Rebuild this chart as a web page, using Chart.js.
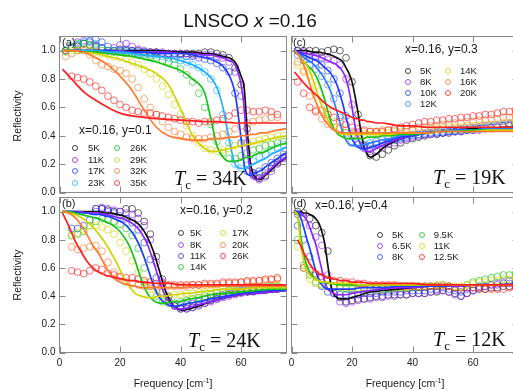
<!DOCTYPE html>
<html>
<head>
<meta charset="utf-8">
<script src="https://cdn.jsdelivr.net/npm/chart.js@4.4.1/dist/chart.umd.min.js"></script>
<style>
  html, body { margin: 0; padding: 0; background: #fff; }
  #page { position: relative; width: 513px; height: 390px; overflow: hidden; font-family: "Liberation Sans", Arial, sans-serif; }
  #page canvas { position: absolute; left: 0; top: 0; }
  #txt { position: absolute; left: 0; top: 0; width: 513px; height: 390px; pointer-events: none; }
  .lbl { position: absolute; white-space: nowrap; line-height: 1; color: #1a1a1a; }
  .tc { font-family: "Liberation Serif", "Times New Roman", serif; font-size: 20px; color: #111; }
  .dot { position: absolute; width: 4px; height: 4px; border: 1px solid; border-radius: 50%; transform: translate(-50%, -50%); opacity: 0.8; }
</style>
</head>
<body>
<div id="page">
  <canvas id="pa" width="530" height="390"></canvas>
  <canvas id="pc" width="530" height="390"></canvas>
  <canvas id="pb" width="530" height="390"></canvas>
  <canvas id="pd" width="530" height="390"></canvas>
  <div id="txt"></div>
</div>
<script>
// ---- axes ----
const xTickVals = [0, 20, 40, 60];
const yTickVals = [0, 0.2, 0.4, 0.6, 0.8, 1.0];

// measured frequencies (cm-1) shared by all data sets
const freqDots = [2,4,6,8,10,12,14,16,18,20,22,24,26,28,30,32,34,36,38,40,42,44,46,48,50,52,54,56,58,60,62,64,66,68,70,72,74];

// ---- (a) x=0.16, y=0.1 ----
const tempsA = ['5K', '11K', '17K', '23K', '26K', '29K', '32K', '35K'];
const dotsA = [
  [1.0,1.02,1.03,1.05,1.04,1.03,1.02,1.0,1.0,1.01,1.0,1.0,1.0,0.99,0.99,0.99,0.98,0.98,0.98,0.98,0.98,0.98,0.98,0.99,0.99,0.98,0.97,0.95,0.88,0.76,0.45,0.14,0.1,0.12,0.17,0.21,0.25],
  [1.0,1.03,1.06,1.07,1.06,1.04,1.02,1.0,1.02,1.04,1.05,1.03,1.01,1.0,0.99,0.99,0.99,0.98,0.98,0.98,0.98,0.97,0.97,0.97,0.97,0.96,0.95,0.92,0.85,0.68,0.35,0.12,0.09,0.11,0.15,0.2,0.24],
  [1.0,1.02,1.04,1.05,1.07,1.08,1.06,1.03,1.0,1.0,1.01,1.0,0.99,0.99,0.98,0.98,0.98,0.97,0.97,0.97,0.96,0.96,0.95,0.94,0.93,0.91,0.88,0.85,0.7,0.35,0.15,0.13,0.15,0.18,0.21,0.24,0.27],
  [1.0,1.02,1.04,1.06,1.07,1.05,1.02,1.0,1.0,1.0,0.99,0.99,0.98,0.98,0.97,0.97,0.96,0.95,0.94,0.93,0.92,0.9,0.88,0.85,0.8,0.72,0.55,0.35,0.2,0.17,0.19,0.22,0.25,0.27,0.3,0.32,0.34],
  [1.0,1.03,1.05,1.05,1.04,1.02,1.0,1.0,0.99,0.99,0.98,0.98,0.97,0.97,0.96,0.95,0.93,0.92,0.9,0.87,0.83,0.78,0.7,0.6,0.48,0.36,0.28,0.24,0.24,0.26,0.28,0.3,0.31,0.33,0.34,0.35,0.36],
  [0.99,1.0,1.0,1.01,1.0,0.99,0.98,0.97,0.96,0.95,0.94,0.92,0.9,0.87,0.84,0.8,0.75,0.69,0.62,0.55,0.47,0.4,0.35,0.31,0.3,0.29,0.3,0.31,0.33,0.34,0.35,0.36,0.37,0.38,0.39,0.4,0.4],
  [0.96,0.98,1.0,1.0,0.97,0.93,0.9,0.89,0.87,0.86,0.84,0.8,0.74,0.66,0.6,0.55,0.5,0.46,0.43,0.41,0.39,0.38,0.38,0.38,0.39,0.4,0.41,0.43,0.45,0.47,0.49,0.5,0.51,0.52,0.53,0.53,null],
  [null,0.82,0.81,0.8,0.78,0.75,0.72,0.68,0.65,0.62,0.6,0.58,0.57,0.56,0.56,0.55,0.54,0.53,0.52,0.51,0.5,0.5,0.49,0.5,0.5,0.51,0.52,0.54,0.56,0.58,0.58,0.57,0.57,0.58,0.57,0.55,null]
];
const freqFitA = [1,4,8,12,16,20,24,28,32,36,40,44,48,50,52,54,56,58,60,61,62,63,64,65,66,67,68,70,72,75];
const fitsA = [
  [1.0,1.0,1.0,1.0,1.0,1.0,1.0,1.0,1.0,0.995,0.99,0.99,0.98,0.98,0.97,0.96,0.95,0.92,0.82,0.74,0.45,0.22,0.13,0.1,0.09,0.1,0.12,0.16,0.2,0.25],
  [1.0,1.0,1.0,1.0,1.0,1.0,0.99,0.99,0.99,0.99,0.98,0.98,0.97,0.97,0.96,0.95,0.93,0.9,0.76,0.6,0.32,0.15,0.1,0.09,0.1,0.11,0.13,0.17,0.21,0.25],
  [1.0,1.0,1.0,1.0,1.0,0.99,0.99,0.99,0.98,0.98,0.98,0.97,0.95,0.94,0.92,0.89,0.83,0.7,0.38,0.2,0.13,0.12,0.13,0.14,0.15,0.16,0.18,0.21,0.24,0.28],
  [1.0,1.0,1.0,1.0,0.99,0.99,0.98,0.97,0.96,0.95,0.93,0.9,0.85,0.81,0.74,0.6,0.38,0.2,0.17,0.17,0.18,0.19,0.2,0.21,0.22,0.23,0.24,0.27,0.29,0.32],
  [1.0,1.0,0.99,0.99,0.98,0.97,0.96,0.94,0.92,0.89,0.86,0.8,0.7,0.52,0.33,0.25,0.22,0.22,0.23,0.24,0.25,0.25,0.26,0.27,0.28,0.28,0.29,0.31,0.33,0.35],
  [1.0,1.0,0.99,0.98,0.96,0.94,0.91,0.88,0.84,0.76,0.59,0.4,0.31,0.29,0.29,0.3,0.31,0.32,0.33,0.33,0.34,0.34,0.35,0.35,0.36,0.36,0.37,0.38,0.39,0.4],
  [1.0,1.0,0.99,0.95,0.9,0.82,0.72,0.58,0.46,0.4,0.38,0.37,0.37,0.38,0.38,0.38,0.39,0.39,0.4,0.4,0.4,0.41,0.41,0.41,0.42,0.42,0.42,0.43,0.44,0.45],
  [0.87,0.8,0.71,0.65,0.6,0.56,0.54,0.53,0.52,0.515,0.51,0.505,0.5,0.5,0.5,0.495,0.495,0.49,0.49,0.49,0.49,0.49,0.49,0.49,0.49,0.49,0.49,0.49,0.49,0.49]
];

// ---- (c) x=0.16, y=0.3 ----
const tempsC = ['5K', '8K', '10K', '12K', '14K', '16K', '20K'];
const dotsC = [
  [1.0,1.0,1.0,1.0,0.99,1.0,1.01,1.0,0.95,0.78,0.55,0.33,0.26,0.25,0.27,0.3,0.33,0.35,0.37,0.38,0.39,0.4,0.41,0.41,0.42,0.42,0.43,0.43,0.44,0.44,0.45,0.45,0.46,0.46,0.47,0.47,0.48],
  [1.0,0.99,0.97,0.96,0.95,0.94,0.93,0.9,0.8,0.62,0.42,0.31,0.29,0.3,0.32,0.34,0.35,0.37,0.38,0.39,0.4,0.41,0.41,0.42,0.42,0.43,0.43,0.43,0.44,0.44,0.44,0.45,0.45,0.46,0.46,0.47,0.47],
  [1.0,0.96,0.94,0.92,0.9,0.86,0.8,0.7,0.54,0.4,0.34,0.32,0.33,0.34,0.35,0.36,0.37,0.38,0.39,0.4,0.41,0.41,0.42,0.42,0.42,0.43,0.43,0.44,0.44,0.45,0.45,0.46,0.46,0.47,0.47,0.48,0.48],
  [0.97,0.93,0.9,0.87,0.82,0.76,0.66,0.53,0.42,0.36,0.34,0.34,0.35,0.36,0.37,0.38,0.39,0.39,0.4,0.41,0.41,0.42,0.42,0.43,0.43,0.44,0.44,0.45,0.45,0.46,0.46,0.47,0.47,0.48,0.48,0.49,0.49],
  [0.9,0.86,0.82,0.75,0.66,0.57,0.5,0.45,0.42,0.41,0.41,0.41,0.41,0.42,0.42,0.42,0.43,0.43,0.43,0.44,0.44,0.44,0.45,0.45,0.45,0.46,0.46,0.46,0.47,0.47,0.47,0.48,0.48,0.48,0.49,0.49,0.5],
  [0.92,0.85,0.68,0.58,0.52,0.48,0.46,0.45,0.44,0.43,0.43,0.43,0.43,0.43,0.44,0.44,0.44,0.45,0.45,0.45,0.46,0.46,0.47,0.47,0.48,0.48,0.49,0.49,0.5,0.5,0.51,0.51,0.52,0.52,0.53,0.53,0.54],
  [0.78,0.7,0.6,0.57,0.58,0.55,0.53,0.5,0.48,0.46,0.45,0.44,0.43,0.43,0.43,0.44,0.45,0.46,0.47,0.48,0.49,0.5,0.5,0.51,0.51,0.52,0.52,0.53,0.53,0.54,0.54,0.55,0.55,0.56,0.57,0.57,0.58]
];
const freqFitC = [1,3,5,7,9,11,13,15,17,18,19,20,21,22,23,24,25,26,28,30,33,36,40,45,50,55,60,65,70,75];
const fitsC = [
  [1.0,1.0,1.0,0.99,0.99,0.98,0.97,0.95,0.92,0.88,0.84,0.78,0.68,0.56,0.42,0.32,0.27,0.25,0.27,0.31,0.35,0.38,0.4,0.42,0.43,0.44,0.45,0.45,0.46,0.46],
  [1.0,0.99,0.98,0.97,0.96,0.94,0.92,0.9,0.85,0.8,0.72,0.6,0.47,0.38,0.33,0.3,0.29,0.29,0.31,0.33,0.36,0.38,0.4,0.42,0.43,0.44,0.44,0.45,0.45,0.46],
  [1.0,0.98,0.96,0.94,0.92,0.88,0.84,0.76,0.62,0.53,0.45,0.38,0.34,0.32,0.31,0.31,0.31,0.32,0.33,0.35,0.37,0.39,0.4,0.42,0.43,0.44,0.44,0.45,0.45,0.45],
  [1.0,0.97,0.94,0.91,0.86,0.8,0.71,0.57,0.42,0.37,0.34,0.33,0.33,0.33,0.33,0.34,0.34,0.35,0.36,0.37,0.38,0.4,0.41,0.42,0.43,0.44,0.44,0.45,0.45,0.45],
  [1.0,0.95,0.9,0.8,0.67,0.56,0.47,0.43,0.41,0.41,0.41,0.41,0.41,0.41,0.41,0.41,0.41,0.41,0.41,0.41,0.41,0.42,0.42,0.42,0.43,0.43,0.43,0.44,0.44,0.44],
  [1.0,0.95,0.84,0.7,0.59,0.51,0.46,0.43,0.42,0.42,0.42,0.42,0.42,0.42,0.42,0.42,0.42,0.42,0.42,0.42,0.42,0.42,0.42,0.42,0.43,0.43,0.43,0.43,0.43,0.43],
  [0.85,0.8,0.75,0.71,0.67,0.63,0.6,0.58,0.56,0.55,0.54,0.53,0.52,0.52,0.51,0.51,0.5,0.5,0.49,0.49,0.48,0.47,0.47,0.46,0.46,0.46,0.46,0.46,0.46,0.46]
];
// extra green fit curve drawn in (c) without a legend entry
const fitGreenC = [1.0,0.95,0.9,0.86,0.78,0.65,0.5,0.42,0.39,0.38,0.38,0.38,0.38,0.38,0.38,0.38,0.39,0.39,0.39,0.4,0.4,0.41,0.41,0.42,0.43,0.43,0.44,0.44,0.44,0.44];

// ---- (b) x=0.16, y=0.2 ----
const tempsB = ['5K', '8K', '11K', '14K', '17K', '20K', '26K'];
const dotsB = [
  [null,null,null,null,null,1.02,1.02,1.01,1.0,1.0,1.02,1.02,0.99,0.93,0.84,0.68,0.52,0.4,0.33,0.31,0.31,0.32,0.34,0.35,0.37,0.38,0.4,0.41,0.42,0.43,0.43,0.44,0.44,0.45,0.45,0.45,null],
  [null,null,null,null,null,1.02,1.03,1.02,1.01,1.0,0.99,0.98,0.95,0.9,0.8,0.64,0.5,0.39,0.33,0.31,0.31,0.32,0.33,0.35,0.36,0.38,0.39,0.4,0.41,0.42,0.43,0.43,0.44,0.44,0.45,0.45,null],
  [null,0.88,0.88,0.9,0.94,1.0,1.02,1.0,0.99,0.97,0.95,0.92,0.87,0.78,0.66,0.53,0.43,0.37,0.34,0.33,0.34,0.35,0.36,0.38,0.39,0.4,0.41,0.42,0.43,0.44,0.44,0.45,0.45,0.45,0.46,0.46,null],
  [null,0.83,0.84,0.86,0.9,0.93,0.95,0.94,0.93,0.91,0.88,0.83,0.74,0.6,0.47,0.4,0.36,0.35,0.35,0.36,0.37,0.38,0.39,0.4,0.41,0.42,0.43,0.44,0.44,0.45,0.45,0.46,0.46,0.46,0.47,0.47,null],
  [null,0.83,0.85,0.87,0.9,0.9,0.89,0.87,0.84,0.78,0.72,0.65,0.57,0.5,0.45,0.42,0.41,0.4,0.41,0.41,0.42,0.42,0.43,0.43,0.44,0.44,0.45,0.45,0.46,0.46,0.46,0.47,0.47,0.47,0.48,0.48,null],
  [null,0.75,0.73,0.74,0.75,0.76,0.72,0.64,0.57,0.53,0.5,0.49,0.48,0.47,0.47,0.47,0.47,0.47,0.47,0.47,0.47,0.48,0.48,0.48,0.48,0.48,0.49,0.49,0.49,0.5,0.5,0.5,0.51,0.51,0.52,0.52,null],
  [null,0.58,0.57,0.56,0.58,0.6,0.59,0.56,0.55,0.54,0.53,0.53,0.52,0.51,0.5,0.49,0.49,0.48,0.48,0.48,0.48,0.48,0.48,0.49,0.49,0.49,0.5,0.5,0.5,0.5,0.51,0.51,0.51,0.52,0.52,0.53,null]
];
const freqFitB = [1,3,5,7,9,11,13,15,17,19,21,23,25,27,29,31,33,35,37,39,41,43,46,50,55,60,65,70,75];
const fitsB = [
  [1.0,1.0,1.0,1.0,1.0,1.0,1.0,0.99,0.99,0.98,0.97,0.95,0.93,0.89,0.82,0.72,0.58,0.44,0.35,0.31,0.3,0.31,0.33,0.36,0.39,0.41,0.42,0.43,0.44],
  [1.0,1.0,1.0,1.0,0.99,0.99,0.99,0.98,0.97,0.96,0.95,0.93,0.9,0.85,0.77,0.65,0.51,0.4,0.34,0.31,0.31,0.32,0.34,0.36,0.39,0.41,0.42,0.43,0.44],
  [1.0,1.0,1.0,0.99,0.99,0.98,0.98,0.97,0.96,0.94,0.92,0.88,0.82,0.73,0.61,0.48,0.39,0.35,0.33,0.33,0.34,0.35,0.36,0.38,0.4,0.42,0.43,0.44,0.44],
  [1.0,1.0,0.99,0.98,0.97,0.96,0.95,0.93,0.91,0.88,0.83,0.76,0.65,0.52,0.42,0.37,0.35,0.35,0.36,0.36,0.37,0.38,0.39,0.41,0.42,0.43,0.44,0.45,0.45],
  [1.0,0.99,0.98,0.96,0.93,0.89,0.84,0.78,0.71,0.63,0.54,0.47,0.42,0.4,0.39,0.39,0.4,0.4,0.41,0.41,0.42,0.42,0.43,0.44,0.45,0.45,0.46,0.46,0.46],
  [1.0,0.99,0.96,0.91,0.84,0.76,0.7,0.62,0.55,0.51,0.49,0.48,0.47,0.46,0.46,0.46,0.46,0.46,0.46,0.46,0.46,0.47,0.47,0.47,0.47,0.47,0.47,0.47,0.47],
  [0.99,0.9,0.8,0.72,0.65,0.6,0.57,0.55,0.54,0.53,0.52,0.51,0.51,0.5,0.5,0.49,0.49,0.49,0.49,0.48,0.48,0.48,0.48,0.48,0.48,0.48,0.48,0.48,0.48]
];

// ---- (d) x=0.16, y=0.4 ----
const tempsD = ['5K', '6.5K', '8K', '9.5K', '11K', '12.5K'];
const dotsD = [
  [1.0,0.99,0.95,0.9,0.85,0.72,0.47,0.39,0.36,0.37,0.38,0.38,0.39,0.4,0.4,0.41,0.41,0.41,0.41,0.42,0.42,0.42,0.43,0.43,0.44,0.43,0.42,0.4,0.42,0.44,0.45,0.45,0.46,0.46,0.47,0.47,0.48],
  [0.98,0.96,0.9,0.82,0.76,0.55,0.42,0.36,0.35,0.36,0.37,0.38,0.38,0.39,0.39,0.4,0.4,0.41,0.41,0.42,0.42,0.42,0.43,0.44,0.44,0.43,0.41,0.4,0.42,0.44,0.46,0.47,0.48,0.49,0.5,0.51,0.52],
  [0.9,0.8,0.68,0.55,0.47,0.43,0.42,0.41,0.41,0.41,0.41,0.42,0.42,0.42,0.43,0.43,0.43,0.43,0.44,0.44,0.44,0.44,0.45,0.45,0.46,0.45,0.44,0.43,0.45,0.46,0.47,0.47,0.48,0.48,0.49,0.49,0.5],
  [0.8,0.62,0.55,0.5,0.48,0.47,0.46,0.46,0.45,0.45,0.45,0.45,0.45,0.45,0.45,0.45,0.46,0.46,0.46,0.46,0.46,0.47,0.47,0.47,0.48,0.47,0.46,0.46,0.48,0.5,0.51,0.52,0.53,0.54,0.55,0.55,0.56],
  [0.75,0.6,0.52,0.49,0.48,0.47,0.47,0.46,0.46,0.46,0.46,0.46,0.46,0.46,0.46,0.46,0.46,0.46,0.46,0.47,0.47,0.47,0.47,0.48,0.48,0.47,0.47,0.47,0.48,0.49,0.5,0.5,0.51,0.51,0.52,0.52,0.53],
  [null,0.6,0.58,0.56,0.54,0.52,0.51,0.51,0.5,0.5,0.49,0.49,0.48,0.48,0.48,0.48,0.48,0.47,0.47,0.47,0.47,0.47,0.47,0.47,0.47,0.47,0.46,0.46,0.46,0.46,0.46,0.45,0.45,0.45,0.45,0.46,0.46]
];
const freqFitD = [1,2,3,4,5,6,7,8,9,10,11,12,13,14,15,16,18,20,23,26,30,35,40,45,50,55,60,65,70,75];
const fitsD = [
  [1.0,1.0,1.0,0.99,0.99,0.98,0.97,0.95,0.92,0.86,0.77,0.62,0.48,0.41,0.39,0.38,0.38,0.39,0.41,0.43,0.44,0.45,0.46,0.47,0.47,0.47,0.48,0.48,0.48,0.48],
  [1.0,1.0,0.99,0.97,0.94,0.89,0.83,0.77,0.68,0.59,0.5,0.45,0.43,0.42,0.41,0.41,0.41,0.42,0.43,0.44,0.45,0.46,0.46,0.47,0.47,0.47,0.48,0.48,0.48,0.48],
  [1.0,1.0,0.96,0.89,0.81,0.74,0.66,0.58,0.52,0.48,0.46,0.45,0.45,0.45,0.45,0.45,0.45,0.45,0.46,0.46,0.46,0.47,0.47,0.47,0.47,0.48,0.48,0.48,0.48,0.48],
  [1.0,0.98,0.83,0.7,0.62,0.57,0.54,0.52,0.51,0.5,0.5,0.49,0.49,0.49,0.48,0.48,0.48,0.48,0.48,0.48,0.48,0.48,0.48,0.48,0.48,0.48,0.48,0.48,0.48,0.48],
  [1.0,0.97,0.78,0.65,0.58,0.55,0.53,0.52,0.51,0.5,0.5,0.5,0.49,0.49,0.49,0.49,0.49,0.49,0.48,0.48,0.48,0.48,0.48,0.48,0.48,0.48,0.48,0.48,0.48,0.48],
  [null,0.8,0.76,0.71,0.67,0.63,0.6,0.58,0.56,0.55,0.54,0.53,0.53,0.52,0.52,0.51,0.51,0.5,0.5,0.49,0.49,0.49,0.49,0.48,0.48,0.48,0.48,0.48,0.48,0.48]
];

// ---- colours ----
const BLACK = '#111111', PURPLE = '#8e24ff', BLUE = '#1f3dff', SKY = '#1fb0ff', BLUE2 = '#2f7bff',
      GREEN = '#19c219', YELLOW = '#d2d200', ORANGE = '#ff7a2e', RED = '#ff1f1f';
const colorsA = [BLACK, PURPLE, BLUE, SKY, GREEN, YELLOW, ORANGE, RED];
const colorsC = [BLACK, PURPLE, BLUE, BLUE2, YELLOW, ORANGE, RED];
const colorsB = [BLACK, PURPLE, BLUE, GREEN, YELLOW, ORANGE, RED];
const colorsD = [BLACK, PURPLE, BLUE, GREEN, YELLOW, RED];

function pts(xs, ys) {
  return xs.map((x, j) => ({ x: x, y: ys[j] })).filter(p => p.y !== null);
}

// hex colour -> rgba with alpha, used to make the open circles lighter
function fade(hex, a) {
  const n = parseInt(hex.slice(1), 16);
  return 'rgba(' + (n >> 16) + ',' + ((n >> 8) & 255) + ',' + (n & 255) + ',' + a + ')';
}

function fitSet(label, color, xs, ys, i) {
  return {
    label: label, data: pts(xs, ys), showLine: true,
    borderColor: color, backgroundColor: color, borderWidth: 1.7,
    pointRadius: 0, cubicInterpolationMode: 'monotone', order: 50 - i
  };
}

function buildSets(temps, colors, dots, fitX, fits) {
  const sets = [];
  temps.forEach((t, i) => {
    sets.push({
      label: t, data: pts(freqDots, dots[i]), showLine: false,
      borderColor: fade(colors[i], 0.72), backgroundColor: 'rgba(0,0,0,0)',
      pointRadius: 3.4, pointBorderWidth: 0.9, order: 100 - i
    });
    sets.push(fitSet(t + ' fit', colors[i], fitX, fits[i], i));
  });
  return sets;
}

// frame with inward ticks on all four sides
const framePlugin = {
  id: 'frame',
  beforeDatasetsDraw(chart) {
    const { ctx, chartArea: a } = chart;
    const sx = chart.scales.x, sy = chart.scales.y;
    ctx.save();
    ctx.strokeStyle = '#8a8a8a';
    ctx.lineWidth = 1;
    ctx.strokeRect(a.left, a.top, a.right - a.left, a.bottom - a.top);
    ctx.beginPath();
    xTickVals.forEach(v => {
      const px = Math.round(sx.getPixelForValue(v)) + 0.5;
      ctx.moveTo(px, a.bottom); ctx.lineTo(px, a.bottom - 6);
      ctx.moveTo(px, a.top); ctx.lineTo(px, a.top + 6);
    });
    yTickVals.forEach(v => {
      const py = Math.round(sy.getPixelForValue(v)) + 0.5;
      ctx.moveTo(a.left, py); ctx.lineTo(a.left + 6, py);
      ctx.moveTo(a.right, py); ctx.lineTo(a.right - 6, py);
    });
    ctx.stroke();
    ctx.restore();
  }
};

const tickFont = { family: '"Liberation Sans", Arial, sans-serif', size: 10 };

function panel(id, padding, showY, showX, datasets) {
  return new Chart(document.getElementById(id), {
    type: 'scatter',
    data: { datasets: datasets },
    options: {
      responsive: false,
      animation: false,
      events: [],
      layout: { padding: padding },
      plugins: { legend: { display: false }, tooltip: { enabled: false } },
      scales: {
        x: {
          type: 'linear', min: 0, max: 75,
          grid: { display: false, drawTicks: false, tickLength: 0 }, border: { display: false },
          ticks: { display: showX, padding: 5, color: '#222', font: tickFont },
          afterBuildTicks: s => { s.ticks = xTickVals.map(v => ({ value: v })); },
          afterFit: s => { s.height = showX ? 37.5 : 0; }
        },
        y: {
          type: 'linear', min: 0, max: 1.1,
          grid: { display: false, drawTicks: false, tickLength: 0 }, border: { display: false },
          ticks: { display: showY, padding: 4, color: '#222', font: tickFont,
                   callback: v => Number(v).toFixed(1) },
          afterBuildTicks: s => { s.ticks = yTickVals.map(v => ({ value: v })); },
          afterFit: s => { s.width = showY ? 59.5 : 0; }
        }
      }
    },
    plugins: [framePlugin]
  });
}

const setsC = buildSets(tempsC, colorsC, dotsC, freqFitC, fitsC);
setsC.push(fitSet('fit', GREEN, freqFitC, fitGreenC, 3.5));

panel('pa', { left: 0, top: 36.5, right: 243.5, bottom: 197.5 }, true, false,
      buildSets(tempsA, colorsA, dotsA, freqFitA, fitsA));
panel('pc', { left: 291.5, top: 36.5, right: 11.5, bottom: 197.5 }, false, false, setsC);
panel('pb', { left: 0, top: 197.5, right: 243.5, bottom: 0 }, true, true,
      buildSets(tempsB, colorsB, dotsB, freqFitB, fitsB));
panel('pd', { left: 291.5, top: 197.5, right: 11.5, bottom: 0 }, false, true,
      buildSets(tempsD, colorsD, dotsD, freqFitD, fitsD));

// ---- text ----
const layer = document.getElementById('txt');
function label(html, x, y, css, center) {
  const d = document.createElement('div');
  d.className = 'lbl';
  d.innerHTML = html;
  d.style.left = x + 'px';
  d.style.top = y + 'px';
  d.style.transform = center ? 'translate(-50%, -50%)' : 'translateY(-50%)';
  if (css) d.style.cssText += css;
  layer.appendChild(d);
  return d;
}

function legend(temps, colors, x1, x2, gap, y0, step, perCol) {
  temps.forEach((t, i) => {
    const cx = i < perCol ? x1 : x2;
    const cy = y0 + (i % perCol) * step;
    const dot = document.createElement('div');
    dot.className = 'dot';
    dot.style.left = cx + 'px';
    dot.style.top = cy + 'px';
    dot.style.borderColor = colors[i];
    layer.appendChild(dot);
    label(t, cx + gap, cy, 'font-size:9.5px;');
  });
}

label('LNSCO <i>x</i> =0.16', 250, 20, 'font-size:19px;color:#111;', true);

const refl = 'font-size:10.5px;';
label('Reflectivity', 17, 116, refl + 'transform:translate(-50%,-50%) rotate(-90deg);', false);
label('Reflectivity', 17, 275, refl + 'transform:translate(-50%,-50%) rotate(-90deg);', false);
const freqHtml = 'Frequency [cm<sup style="font-size:7px;vertical-align:4px;">-1</sup>]';
label(freqHtml, 173, 383, 'font-size:10.5px;', true);
label(freqHtml, 405, 383, 'font-size:10.5px;', true);

const tagCss = 'font-size:11px;';
label('(a)', 62, 42, tagCss);
label('(c)', 293, 42, tagCss);
label('(b)', 62, 203, tagCss);
label('(d)', 293, 203, tagCss);

const comp = 'font-size:12px;';
label('x=0.16, y=0.1', 79, 130, comp);
label('x=0.16, y=0.3', 405, 49, comp);
label('x=0.16, y=0.2', 180, 210, comp);
label('x=0.16, y=0.4', 315, 205, comp);

legend(tempsA, colorsA, 75, 117, 13, 148.3, 11.5, 4);
legend(tempsC, colorsC, 408, 448, 12, 70.7, 11.1, 4);
legend(tempsB, colorsB, 181, 223, 9, 233.3, 11.2, 4);
legend(tempsD, colorsD, 380, 421.7, 12, 235, 11, 3);

const tcHtml = k => '<i>T</i><span style="font-size:13px;position:relative;top:4px;">c</span> = ' + k;
[['34K', 174, 178], ['19K', 433, 177], ['24K', 188, 340], ['12K', 433, 339]].forEach(([k, x, y]) => {
  const d = label(tcHtml(k), x, y, '');
  d.classList.add('tc');
});
</script>
</body>
</html>
